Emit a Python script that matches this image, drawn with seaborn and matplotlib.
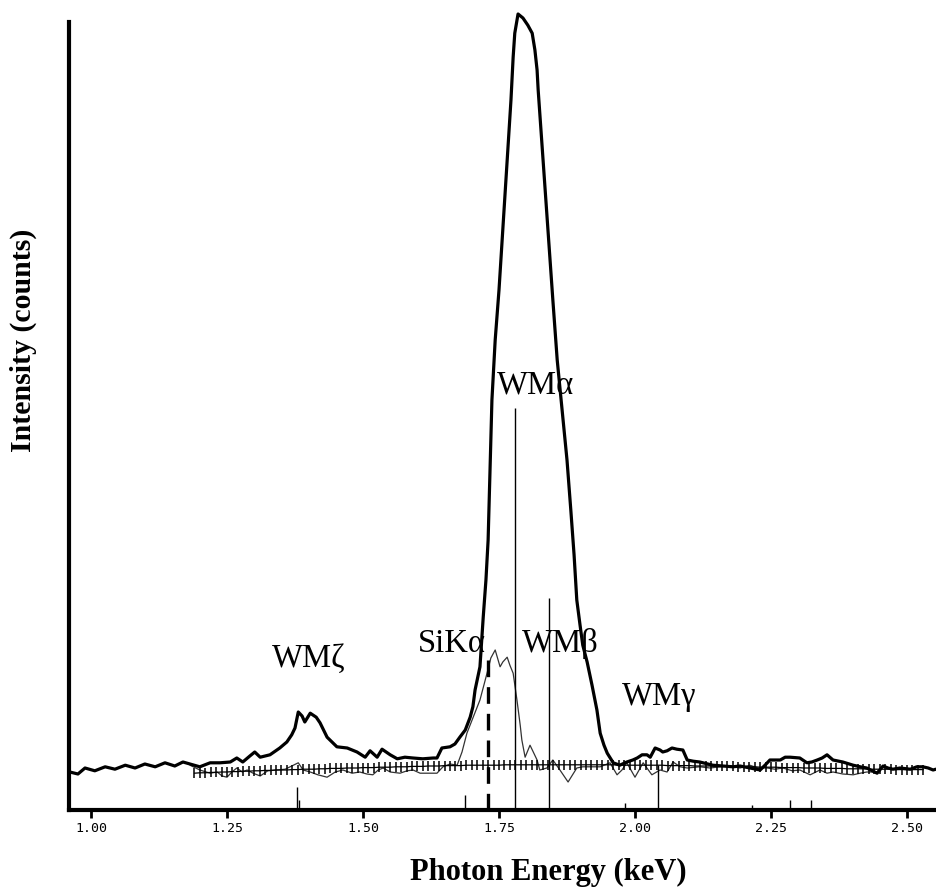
import numpy as np
import matplotlib
matplotlib.use("Agg")
import matplotlib.pyplot as plt
import seaborn as sns

# measured spectrum (thick line)
spec_energy = [0.961, 0.976, 0.989, 1.007, 1.026, 1.044, 1.063, 1.081, 1.099, 1.118,
               1.136, 1.154, 1.169, 1.182, 1.200, 1.219, 1.237, 1.256, 1.268, 1.279,
               1.292, 1.301, 1.311, 1.329, 1.347, 1.360, 1.369, 1.375, 1.381, 1.388,
               1.393, 1.403, 1.414, 1.421, 1.434, 1.452, 1.471, 1.489, 1.504, 1.513,
               1.526, 1.535, 1.550, 1.563, 1.577, 1.592, 1.610, 1.629, 1.636, 1.645,
               1.660, 1.669, 1.678, 1.688, 1.697, 1.702, 1.706, 1.715, 1.721, 1.726,
               1.730, 1.733, 1.735, 1.737, 1.743, 1.750, 1.757, 1.765, 1.772, 1.776,
               1.779, 1.783, 1.785, 1.794, 1.803, 1.811, 1.816, 1.820, 1.822, 1.831,
               1.840, 1.849, 1.857, 1.866, 1.875, 1.882, 1.888, 1.893, 1.899, 1.904,
               1.912, 1.921, 1.930, 1.936, 1.943, 1.949, 1.960, 1.972, 1.985, 1.996,
               2.004, 2.013, 2.022, 2.028, 2.037, 2.046, 2.051, 2.059, 2.068, 2.077,
               2.088, 2.096, 2.107, 2.119, 2.143, 2.162, 2.180, 2.193, 2.211, 2.230,
               2.239, 2.248, 2.267, 2.276, 2.285, 2.303, 2.316, 2.325, 2.335, 2.344,
               2.353, 2.364, 2.382, 2.401, 2.414, 2.426, 2.445, 2.456, 2.465, 2.474,
               2.487, 2.506, 2.518, 2.529, 2.539, 2.548, 2.553]
spec_counts = [95, 90, 105, 98, 108, 102, 112, 105, 115, 108,
               118, 110, 120, 115, 108, 118, 118, 120, 130, 120,
               135, 145, 132, 138, 155, 170, 188, 205, 245, 235,
               220, 242, 232, 218, 182, 158, 155, 145, 132, 148,
               132, 152, 138, 128, 132, 130, 128, 130, 130, 155,
               158, 165, 182, 200, 232, 258, 300, 358, 482, 575,
               675, 825, 925, 1025, 1175, 1300, 1450, 1625, 1775, 1882,
               1942, 1975, 1990, 1980, 1962, 1942, 1900, 1850, 1800, 1625,
               1450, 1275, 1125, 1000, 875, 750, 638, 525, 462, 412,
               370, 312, 250, 192, 162, 142, 118, 112, 120, 125,
               130, 138, 138, 132, 155, 150, 145, 148, 155, 152,
               150, 125, 122, 120, 112, 110, 108, 110, 105, 100,
               112, 125, 125, 132, 132, 130, 118, 120, 125, 130,
               138, 125, 120, 112, 108, 105, 92, 110, 105, 102,
               105, 102, 108, 108, 105, 100, 102]

# thin line (residual / Si component)
thin_energy = [1.182, 1.200, 1.219, 1.232, 1.241, 1.250, 1.259, 1.268, 1.278, 1.287,
               1.298, 1.311, 1.325, 1.342, 1.357, 1.369, 1.381, 1.390, 1.403, 1.417,
               1.434, 1.449, 1.463, 1.480, 1.494, 1.507, 1.518, 1.528, 1.537, 1.550,
               1.568, 1.581, 1.592, 1.605, 1.618, 1.636, 1.647, 1.660, 1.673, 1.682,
               1.691, 1.702, 1.715, 1.728, 1.735, 1.743, 1.752, 1.757, 1.765, 1.770,
               1.776, 1.783, 1.789, 1.792, 1.798, 1.807, 1.813, 1.820, 1.825, 1.838,
               1.849, 1.862, 1.877, 1.893, 1.904, 1.917, 1.936, 1.954, 1.967, 1.976,
               1.985, 2.000, 2.015, 2.031, 2.046, 2.059, 2.070, 2.083, 2.096, 2.119,
               2.138, 2.156, 2.175, 2.193, 2.211, 2.226, 2.243, 2.257, 2.272, 2.289,
               2.303, 2.322, 2.340, 2.353, 2.364, 2.382, 2.401, 2.414, 2.426, 2.445,
               2.456]
thin_counts = [112, 100, 92, 95, 85, 82, 95, 105, 95, 100,
               92, 85, 98, 100, 102, 110, 118, 100, 95, 88,
               82, 95, 100, 92, 95, 90, 88, 100, 105, 95,
               92, 98, 100, 92, 92, 92, 108, 115, 112, 145,
               192, 230, 275, 342, 380, 400, 358, 370, 382, 362,
               342, 275, 212, 175, 132, 162, 145, 125, 100, 105,
               125, 100, 70, 105, 108, 108, 108, 118, 88, 100,
               118, 82, 118, 88, 100, 95, 120, 108, 105, 108,
               105, 108, 110, 105, 112, 105, 105, 102, 105, 98,
               100, 88, 100, 92, 95, 90, 88, 92, 95, 95,
               108]

# background fit (crossed line), one value per 10 eV channel from 1.19 keV
bg_counts = [92, 93, 93, 94, 94, 95, 95, 96, 96, 97, 97,
             98, 98, 99, 99, 100, 100, 100, 101, 101, 102,
             102, 102, 103, 103, 104, 104, 104, 105, 105, 105,
             106, 106, 106, 107, 107, 107, 108, 108, 108, 109,
             109, 109, 110, 110, 110, 111, 111, 111, 111, 112,
             112, 112, 112, 112, 112, 112, 113, 113, 113, 113,
             113, 113, 113, 113, 113, 113, 113, 113, 113, 113,
             113, 113, 113, 113, 113, 113, 113, 112, 112, 112,
             112, 112, 112, 112, 112, 112, 111, 111, 111, 111,
             111, 110, 110, 110, 110, 109, 109, 109, 109, 108,
             108, 108, 108, 107, 107, 107, 107, 106, 106, 106,
             106, 105, 105, 105, 105, 104, 104, 104, 104, 103,
             103, 103, 103, 102, 102, 102, 102, 102, 101, 101,
             101, 101, 101, 101]
bg_energy = np.round(1.19 + 0.01 * np.arange(len(bg_counts)), 2)

# line markers
marker_energy = [1.779, 1.842, 2.042, 1.379, 1.383, 1.688, 1.982, 2.215, 2.285, 2.323]
marker_top = [1005, 530, 112, 57, 25, 37, 17, 12, 25, 25]
si_energy = 1.730
si_top = 400

labels = ["WM\u03b6", "WM\u03b1", "SiK\u03b1", "WM\u03b2", "WM\u03b3"]
label_x = [1.333, 1.746, 1.601, 1.792, 1.976]
label_y = [357, 1042, 395, 395, 262]

xticks = [1.00, 1.25, 1.50, 1.75, 2.00, 2.25, 2.50]

sns.set_style('white')
plt.rcParams['text.color'] = 'black'
fig = plt.figure(figsize=(9.36, 8.9), dpi=100)
ax = fig.add_axes([69 / 936, 80 / 890, 867 / 936, 810 / 890])

sns.lineplot(x=thin_energy, y=thin_counts, ax=ax, color='#333333', linewidth=0.9,
             estimator=None, sort=False)
sns.lineplot(x=bg_energy, y=bg_counts, ax=ax, color='black', linewidth=0.9,
             marker='|', markersize=6.5, markeredgewidth=1.1, markeredgecolor='black',
             estimator=None, sort=False)
sns.lineplot(x=spec_energy, y=spec_counts, ax=ax, color='black', linewidth=2.3,
             estimator=None, sort=False)

ax.vlines(marker_energy, 0, marker_top, color='black', linewidth=1)
ax.vlines([si_energy], 0, [si_top], color='black', linewidth=2.4,
          linestyles=[(0, (5, 3))])

for t, x, y in zip(labels, label_x, label_y):
    ax.text(x, y, t, family='Liberation Serif', fontsize=23.5, ha='left', va='baseline',
            color='black')

ax.set_xlim(1.00 - 22 / 544, 1.00 + 867 / 544 - 22 / 544)
ax.set_ylim(0, 2025)
ax.set_xticks(xticks)
ax.set_xticklabels([f'{v:.2f}' for v in xticks], family='DejaVu Sans Mono', fontsize=9.5,
                   color='black')
ax.set_yticks([])
ax.tick_params(axis='x', direction='out', length=6, width=2, pad=3, bottom=True, color='black')

for side in ['top', 'right']:
    ax.spines[side].set_visible(False)
ax.spines['left'].set_linewidth(3)
ax.spines['bottom'].set_linewidth(3)
ax.spines['left'].set_color('black')
ax.spines['bottom'].set_color('black')
ax.spines['left'].set_bounds(0, 1970)

fig.text(548 / 936, (890 - 872) / 890, 'Photon Energy (keV)', family='Liberation Serif',
         fontweight='bold', fontsize=22, ha='center', va='center', color='black')
fig.text(23 / 936, (890 - 340) / 890, 'Intensity (counts)', family='Liberation Serif',
         fontweight='bold', fontsize=21.5, ha='center', va='center', rotation=90,
         color='black')

fig.savefig('out.png', dpi=100)
